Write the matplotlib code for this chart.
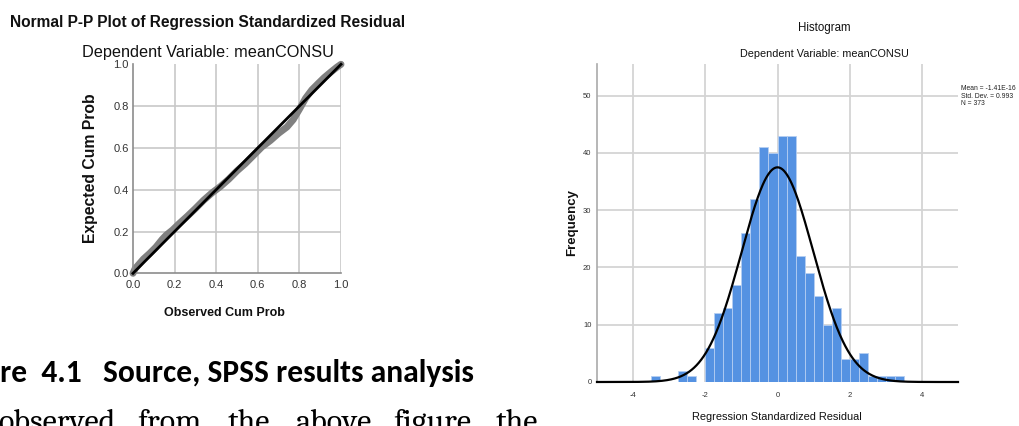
import numpy as np
import matplotlib
matplotlib.use("Agg")
import matplotlib.pyplot as plt
from matplotlib import font_manager

# ---------------- data ----------------
# P-P plot: observed vs expected cumulative probabilities
pp_observed = [0.00, 0.01, 0.03, 0.05, 0.08, 0.11, 0.14, 0.16, 0.19, 0.22, 0.26,
               0.30, 0.34, 0.38, 0.42, 0.46, 0.50, 0.54, 0.58, 0.62, 0.66, 0.70,
               0.74, 0.77, 0.80, 0.83, 0.86, 0.89, 0.92, 0.95, 0.98, 1.00]
pp_expected = [0.00, 0.022, 0.045, 0.068, 0.095, 0.125, 0.162, 0.183, 0.207, 0.236, 0.272,
               0.31, 0.35, 0.385, 0.415, 0.45, 0.49, 0.525, 0.565, 0.605, 0.635, 0.67,
               0.70, 0.735, 0.785, 0.838, 0.878, 0.908, 0.937, 0.962, 0.986, 1.00]
pp_ref = [0.0, 1.0]
pp_ticks = [0.0, 0.2, 0.4, 0.6, 0.8, 1.0]

# Histogram of residuals (bin width 0.25)
bin_left = [-3.5, -3.25, -3.0, -2.75, -2.5, -2.25, -2.0, -1.75, -1.5, -1.25,
            -1.0, -0.75, -0.5, -0.25, 0.0, 0.25, 0.5, 0.75, 1.0, 1.25,
            1.5, 1.75, 2.0, 2.25, 2.5, 2.75, 3.0, 3.25]
counts = [1, 0, 0, 2, 1, 0, 6, 12, 13, 17,
          26, 32, 41, 40, 43, 43, 22, 19, 15, 10,
          13, 4, 4, 5, 1, 1, 1, 1]
bin_width = 0.25
res_mean = -1.41e-16
res_sd = 0.993
res_n = 373
hist_xticks = [-4, -2, 0, 2, 4]
hist_yticks = [0, 10, 20, 30, 40, 50]

# ---------------- fonts ----------------
avail = {f.name for f in font_manager.fontManager.ttflist}
ARIAL = ["Liberation Sans", "DejaVu Sans"]
CALIBRI = ["Carlito", "Lato", "DejaVu Sans"] if "Carlito" in avail else ["Lato", "DejaVu Sans"]
SERIF = ["Caladea", "Liberation Serif", "DejaVu Serif"] if "Caladea" in avail else ["Liberation Serif", "DejaVu Serif"]

W, H = 1019, 426
fig = plt.figure(figsize=(W / 100, H / 100), dpi=100)
fig.patch.set_facecolor("white")

def fx(px):
    return px / W

def fy(py):
    return 1 - py / H

# ---------------- P-P plot ----------------
ax1 = fig.add_axes([fx(133), fy(273.3), fx(341) - fx(133), fy(64.3) - fy(273.3)])
ax1.set_xlim(0, 1)
ax1.set_ylim(0, 1)
for t in pp_ticks[1:]:
    ax1.axvline(t, color="#c8c8c8", lw=1.2, zorder=0)
for t in pp_ticks[1:-1]:
    ax1.axhline(t, color="#c8c8c8", lw=1.2, zorder=0)
ax1.plot(pp_observed, pp_expected, color="#808080", lw=5.0, solid_capstyle="round",
         solid_joinstyle="round", zorder=2, clip_on=False)
ax1.plot(pp_ref, pp_ref, color="black", lw=2.0, zorder=3, clip_on=False)
for s in ["top", "right"]:
    ax1.spines[s].set_visible(False)
for s in ["left", "bottom"]:
    ax1.spines[s].set_color("#8c8c8c")
    ax1.spines[s].set_linewidth(1.2)
ax1.set_xticks(pp_ticks)
ax1.set_yticks(pp_ticks)
ax1.set_xticklabels([f"{t:.1f}" for t in pp_ticks], family=ARIAL, fontsize=8, color="#333333")
ax1.set_yticklabels([f"{t:.1f}" for t in pp_ticks], family=ARIAL, fontsize=8, color="#333333")
ax1.tick_params(axis="x", length=0, pad=5)
ax1.tick_params(axis="y", length=0, pad=3)
ax1.set_facecolor("white")

fig.text(fx(10), fy(22), "Normal P-P Plot of Regression Standardized Residual",
         family=ARIAL, fontsize=11.2, fontweight="bold", ha="left", va="center", color="#111111")
fig.text(fx(207.5), fy(52), "Dependent Variable: meanCONSU",
         family=ARIAL, fontsize=11.7, ha="center", va="center", color="#111111")
fig.text(fx(91), fy(168), "Expected Cum Prob", family=ARIAL, fontsize=11.3,
         fontweight="bold", rotation=90, ha="center", va="center", color="#111111")
fig.text(fx(224), fy(313), "Observed Cum Prob", family=ARIAL, fontsize=9,
         fontweight="bold", ha="center", va="center", color="#111111")

# ---------------- document text ----------------
fig.text(fx(0), fy(382), "re  4.1   Source, SPSS results analysis", family=CALIBRI,
         fontsize=22.7, fontweight="bold", ha="left", va="baseline", color="black")
body_words = ["observed", "from", "the", "above", "figure,", "the"]
body_x = [-2, 137, 228, 295, 393, 496]
for wd, xx in zip(body_words, body_x):
    fig.text(fx(xx), fy(431), wd, family=SERIF, fontsize=23, ha="left",
             va="baseline", color="black")

# ---------------- Histogram ----------------
ax2 = fig.add_axes([fx(597), fy(382), fx(958) - fx(597), fy(64) - fy(382)])
ax2.set_xlim(-5, 5)
ax2.set_ylim(0, 55.5)
for t in hist_xticks:
    ax2.axvline(t, color="#d4d4d4", lw=1.3, zorder=0)
for t in hist_yticks[1:]:
    ax2.axhline(t, color="#d4d4d4", lw=1.3, zorder=0)
ax2.bar(bin_left, counts, width=bin_width, align="edge", color="#5592e2",
        edgecolor="#b5cef2", linewidth=0.6, zorder=2)
xs = np.linspace(-5, 5, 600)
curve = res_n * bin_width / (res_sd * np.sqrt(2 * np.pi)) * np.exp(-0.5 * ((xs - res_mean) / res_sd) ** 2)
ax2.plot(xs, curve, color="black", lw=1.6, zorder=3, clip_on=False)
for s in ["top", "right", "bottom"]:
    ax2.spines[s].set_visible(False)
ax2.spines["left"].set_color("#aaaaaa")
ax2.spines["left"].set_linewidth(1.2)
ax2.set_xticks(hist_xticks)
ax2.set_yticks(hist_yticks)
ax2.set_xticklabels([str(t) for t in hist_xticks], family=ARIAL, fontsize=5.5, color="#333333")
ax2.set_yticklabels([str(t) for t in hist_yticks], family=ARIAL, fontsize=5.5, color="#333333")
ax2.tick_params(axis="x", length=0, pad=7)
ax2.tick_params(axis="y", length=0, pad=4)
ax2.set_facecolor("white")

fig.text(fx(824), fy(28), "Histogram", family=ARIAL, fontsize=8.3, ha="center",
         va="center", color="#111111")
fig.text(fx(824), fy(54), "Dependent Variable: meanCONSU", family=ARIAL, fontsize=7.8,
         ha="center", va="center", color="#111111")
fig.text(fx(777), fy(417), "Regression Standardized Residual", family=ARIAL, fontsize=7.9,
         ha="center", va="center", color="#111111")
fig.text(fx(572), fy(223), "Frequency", family=ARIAL, fontsize=9.5, fontweight="bold",
         rotation=90, ha="center", va="center", color="#111111")
fig.text(fx(961), fy(96), f"Mean = {res_mean:.2E}" + "\n"
         + f"Std. Dev. = {res_sd}" + "\n" + f"N = {res_n}",
         family=ARIAL, fontsize=4.9, ha="left", va="center", color="#222222",
         linespacing=1.1)

fig.savefig("out.png", dpi=100, facecolor="white")
